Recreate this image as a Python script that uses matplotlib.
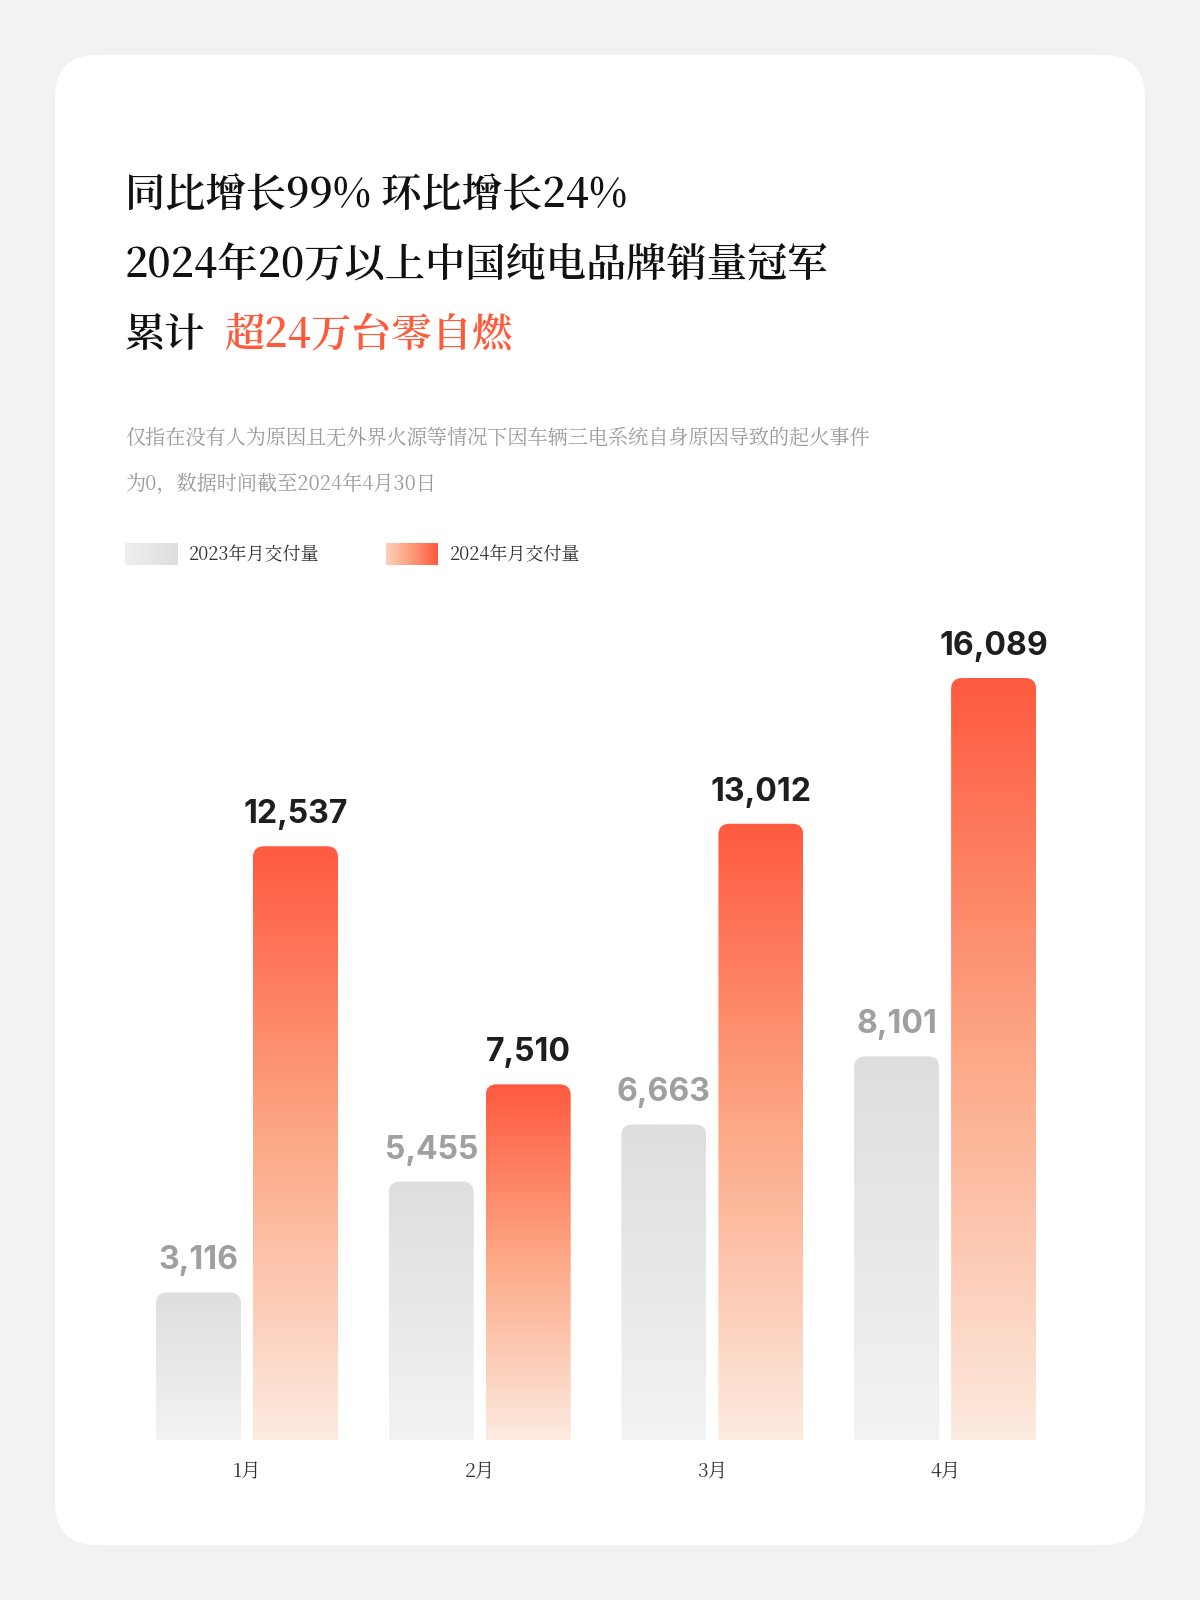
import numpy as np
import matplotlib
matplotlib.use("Agg")
import matplotlib.pyplot as plt
from matplotlib import font_manager as fm
from matplotlib.patches import FancyBboxPatch
from matplotlib.colors import LinearSegmentedColormap

months = ["1月", "2月", "3月", "4月"]
sales_2023 = [3116, 5455, 6663, 8101]
sales_2024 = [12537, 7510, 13012, 16089]
legend_labels = ["2023年月交付量", "2024年月交付量"]

# locate a CJK font
cjk_files = [f for f in fm.findSystemFonts() if "CJK" in f or "cjk" in f.lower()]
reg = [f for f in cjk_files if "Regular" in f] or cjk_files
bold = [f for f in cjk_files if "Bold" in f] or reg
for f in cjk_files:
    try:
        fm.fontManager.addfont(f)
    except Exception:
        pass
FP = fm.FontProperties(fname=reg[0]) if reg else fm.FontProperties(family="Noto Sans CJK SC")
FPB = fm.FontProperties(fname=bold[0]) if bold else fm.FontProperties(family="Noto Sans CJK SC", weight="bold")

W, H = 1200, 1600
fig = plt.figure(figsize=(12, 16), dpi=100)
fig.patch.set_facecolor("#f2f2f2")

def fx(px): return px / W
def fy(py): return 1 - py / H

card = FancyBboxPatch((fx(55), fy(1545)), fx(1145) - fx(55), fy(55) - fy(1545),
                      boxstyle="round,pad=0,rounding_size=0.035", mutation_aspect=0.75,
                      transform=fig.transFigure, facecolor="white", edgecolor="none", zorder=-10)
fig.patches.append(card)

orange_cmap = LinearSegmentedColormap.from_list("o", ["#fdebe0", "#fca987", "#ff5a3f"])
gray_cmap = LinearSegmentedColormap.from_list("g", ["#f3f3f4", "#dededf"])

def T(x, y, s, size, color, boldf=False, **kw):
    p = (FPB if boldf else FP).copy()
    p.set_size(size)
    return fig.text(x, y, s, fontproperties=p, color=color, **kw)

tkw = dict(va="center", ha="left")
T(fx(125), fy(195), "同比增长99% 环比增长24%", 29, "#111111", True, **tkw)
T(fx(125), fy(265), "2024年20万以上中国纯电品牌销量冠军", 29, "#111111", True, **tkw)
T(fx(125), fy(335), "累计", 29, "#111111", True, **tkw)
T(fx(224), fy(335), "超24万台零自燃", 29, "#ff5a3c", True, **tkw)
T(fx(125), fy(438), "仅指在没有人为原因且无外界火源等情况下因车辆三电系统自身原因导致的起火事件", 14.5, "#9a9a9a", **tkw)
T(fx(125), fy(484), "为0，数据时间截至2024年4月30日", 14.5, "#9a9a9a", **tkw)

for x0, cmap, lab in [(125, gray_cmap, legend_labels[0]), (386, orange_cmap, legend_labels[1])]:
    lax = fig.add_axes([fx(x0), fy(565), fx(52), fy(543) - fy(565)])
    lax.imshow(np.linspace(0.2, 1, 64).reshape(1, -1), cmap=cmap, aspect="auto", vmin=0, vmax=1)
    lax.axis("off")
    T(fx(x0 + 64), fy(555), lab, 13, "#333333", va="center", ha="left")

left_px, right_px, base_px, top_px = 120, 1070, 1440, 600
ax = fig.add_axes([fx(left_px), fy(base_px), fx(right_px - left_px), fy(top_px) - fy(base_px)])
pxu = 232.7
c0 = 247
ypx = 0.04736
ax.axis("off")

bw = 85 / pxu
off = 48.5 / pxu
r = 11 / pxu
asp = (1 / ypx) / (1 / pxu)

def bar(xc, v, cmap):
    x0 = xc - bw / 2
    patch = FancyBboxPatch((x0, -r * asp * 2), bw, v + r * asp * 2,
                           boxstyle=f"round,pad=0,rounding_size={r}", mutation_aspect=asp,
                           facecolor="none", edgecolor="none")
    ax.add_patch(patch)
    grad = np.linspace(0, 1, 256).reshape(-1, 1)
    im = ax.imshow(grad, cmap=cmap, aspect="auto", origin="lower",
                   extent=(x0, x0 + bw, 0, v), zorder=2)
    im.set_clip_path(patch)

numfp = fm.FontProperties(family="Inter", weight="bold", size=23)
monfp = FP.copy(); monfp.set_size(14)
for i, (a, b) in enumerate(zip(sales_2023, sales_2024)):
    bar(i - off, a, gray_cmap)
    bar(i + off, b, orange_cmap)
    ax.text(i - off, a + 16 / ypx, f"{a:,}", ha="center", va="bottom",
            fontproperties=numfp, color="#a0a0a0")
    ax.text(i + off, b + 16 / ypx, f"{b:,}", ha="center", va="bottom",
            fontproperties=numfp, color="#1e1e1e")
    ax.text(i, -32 / ypx, months[i], ha="center", va="center", fontproperties=monfp,
            color="#333333", clip_on=False)

ax.set_xlim((left_px - c0) / pxu, (right_px - c0) / pxu)
ax.set_ylim(0, (base_px - top_px) / ypx)

fig.savefig("out.png", dpi=100, facecolor=fig.get_facecolor())
